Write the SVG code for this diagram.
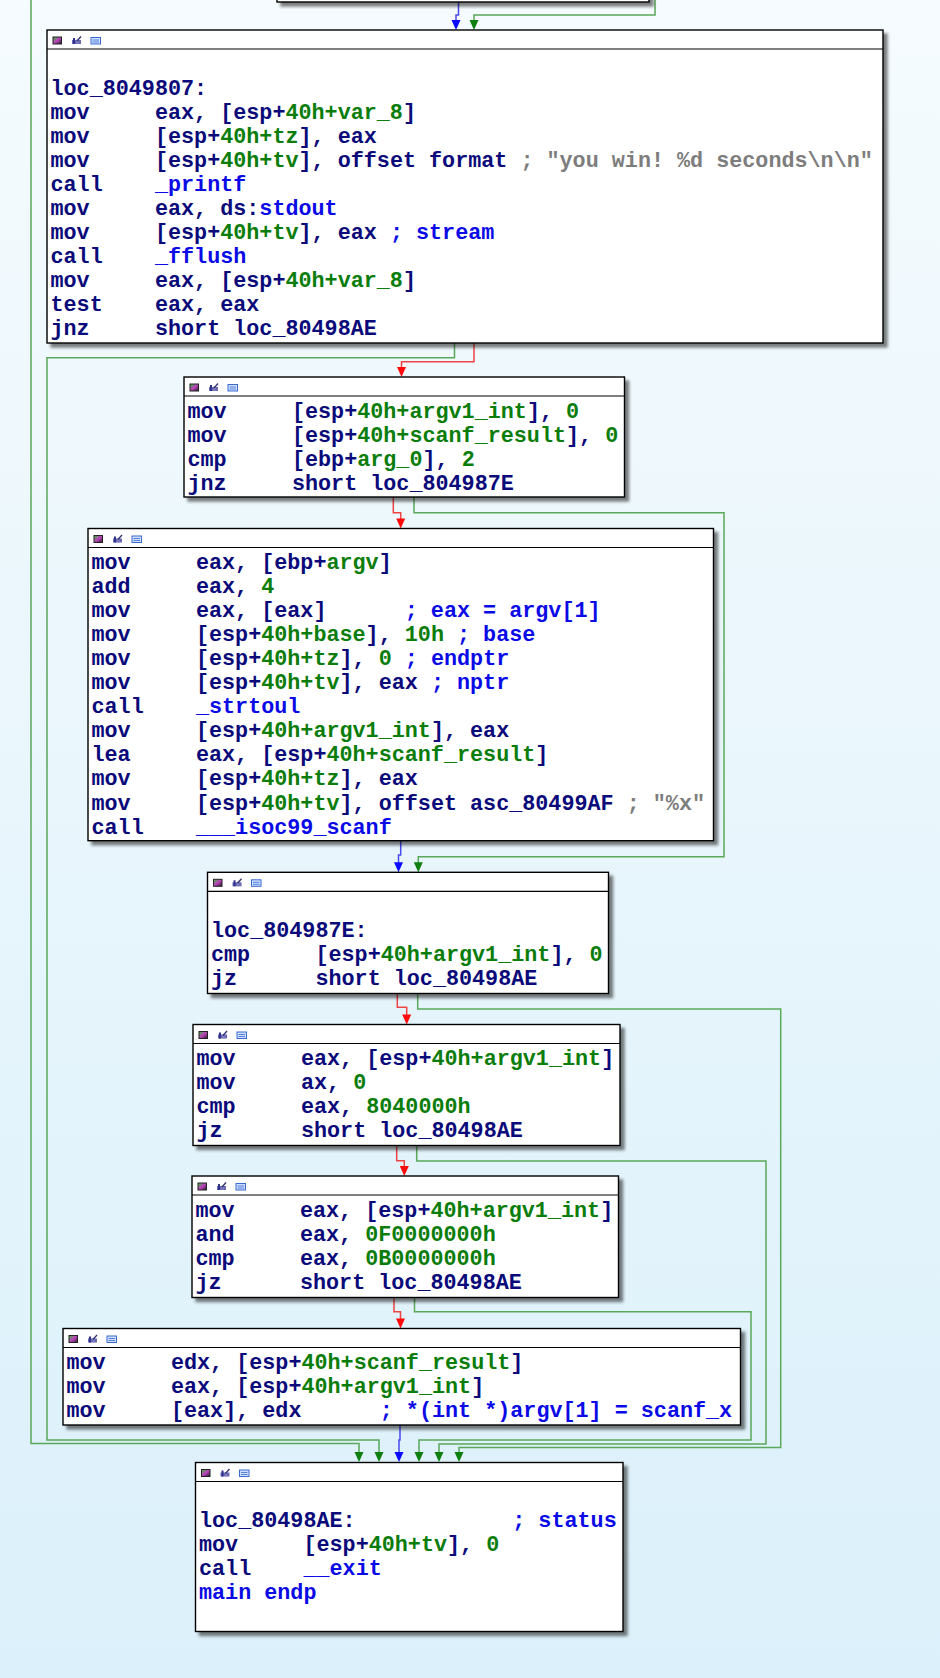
<svg xmlns="http://www.w3.org/2000/svg" width="940" height="1678" viewBox="0 0 940 1678" xml:space="preserve">
<defs>
<linearGradient id="bg" x1="0" y1="0" x2="0" y2="1"><stop offset="0" stop-color="#f5fbfe"/><stop offset="1" stop-color="#dbf0fa"/></linearGradient>
<linearGradient id="ic1" x1="0" y1="0" x2="1" y2="1"><stop offset="0" stop-color="#30c030"/><stop offset="0.5" stop-color="#c040c0"/><stop offset="1" stop-color="#202020"/></linearGradient>
<filter id="sh" x="-5%" y="-5%" width="115%" height="120%"><feDropShadow dx="4" dy="4" stdDeviation="1.6" flood-color="#000" flood-opacity="0.5"/></filter>
<g id="icons">
<rect x="6" y="7" width="8.5" height="7" fill="url(#ic1)" stroke="#222" stroke-width="1"/>
<rect x="25" y="10" width="9" height="4" fill="#6a6ab0"/><rect x="26" y="8" width="2" height="6" fill="#303090"/><rect x="29.5" y="9.5" width="2" height="4.5" fill="#8080c8"/><path d="M30 11 L34 6.5" stroke="#303070" stroke-width="1.3"/>
<rect x="44" y="7.5" width="9.5" height="6.5" fill="#cfe0ff" stroke="#3a6ad0" stroke-width="1"/><path d="M45.5 10 H52 M45.5 12 H52" stroke="#3a6ad0" stroke-width="0.8"/>
</g>
</defs>
<style>
.box{fill:#fff;stroke:#000;stroke-width:1.4}
.sep{stroke:#000;stroke-width:1.2}
.t{font-family:"Liberation Mono","DejaVu Sans Mono",monospace;font-size:21.75px;font-weight:bold;fill:#0a0a7a;white-space:pre}
.n{fill:#0b7d0b}
.b{fill:#0a0ae6}
.g{fill:#7d7d7d}
.eg{fill:none;stroke:#5aa85a;stroke-width:1.5}
.er{fill:none;stroke:#ee4444;stroke-width:1.5}
.eb{fill:none;stroke:#4848f0;stroke-width:1.5}
.ag{fill:#0f800f}
.ar{fill:#ff0a0a}
.ab{fill:#0a0aff}
</style>
<rect x="0" y="0" width="940" height="1678" fill="url(#bg)"/>

<g id="connectors">
<path class="eb" d="M458.5 2 V15 H456 V21"/>
<path class="ab" d="M451.5 20 H460.5 L456 30 Z"/>
<path class="eg" d="M655 0 V15 H474 V21"/>
<path class="ag" d="M469.5 20 H478.5 L474 30 Z"/>
<path class="eg" d="M31 0 V1443.5 H359 V1453"/>
<path class="ag" d="M354.5 1452 H363.5 L359 1462 Z"/>
<path class="eg" d="M454.5 343 V357.7 H47 V1440 H379 V1453"/>
<path class="ag" d="M374.5 1452 H383.5 L379 1462 Z"/>
<path class="er" d="M474 343 V361.7 H401.5 V368"/>
<path class="ar" d="M397 367 H406 L401.5 377 Z"/>
<path class="er" d="M393.3 497 V512.7 H400.7 V520"/>
<path class="ar" d="M396.2 518.5 H405.2 L400.7 528.5 Z"/>
<path class="eg" d="M414 497 V512.7 H724 V856.7 H418.3 V863"/>
<path class="ag" d="M413.8 862.3 H422.8 L418.3 872.3 Z"/>
<path class="eb" d="M400.7 841 V855 H398.5 V863"/>
<path class="ab" d="M394 862.3 H403 L398.5 872.3 Z"/>
<path class="er" d="M397.3 993.5 V1007.3 H406.7 V1015.5"/>
<path class="ar" d="M402.2 1014.5 H411.2 L406.7 1024.5 Z"/>
<path class="eg" d="M417.7 993.5 V1009 H780.7 V1447.5 H459 V1453"/>
<path class="ag" d="M454.5 1452 H463.5 L459 1462 Z"/>
<path class="er" d="M396.7 1145.5 V1160.7 H404.3 V1167"/>
<path class="ar" d="M399.8 1166 H408.8 L404.3 1176 Z"/>
<path class="eg" d="M416.7 1145.5 V1161 H766 V1444 H439 V1453"/>
<path class="ag" d="M434.5 1452 H443.5 L439 1462 Z"/>
<path class="er" d="M394 1297.5 V1311.7 H400.5 V1319.5"/>
<path class="ar" d="M396 1318.5 H405 L400.5 1328.5 Z"/>
<path class="eg" d="M414.5 1297.5 V1311.7 H751 V1440 H419 V1453"/>
<path class="ag" d="M414.5 1452 H423.5 L419 1462 Z"/>
<path class="eb" d="M400 1425 V1440 H399 V1453"/>
<path class="ab" d="M394.5 1452 H403.5 L399 1462 Z"/>
</g>

<g id="node_top">
<rect x="277" y="-40" width="372" height="42" class="box" filter="url(#sh)"/>
</g>

<g id="node_loc_8049807">
<rect x="47" y="30" width="836" height="313" class="box" filter="url(#sh)"/>
<line x1="47" y1="49" x2="883" y2="49" class="sep"/>
<use href="#icons" x="47" y="30"/>
<text class="t" x="50.5" y="94.55">loc_8049807:</text>
<text class="t" x="50.5" y="118.6">mov     eax, [esp+<tspan class="n">40h+var_8</tspan>]</text>
<text class="t" x="50.5" y="142.65">mov     [esp+<tspan class="n">40h+tz</tspan>], eax</text>
<text class="t" x="50.5" y="166.7">mov     [esp+<tspan class="n">40h+tv</tspan>], offset format <tspan class="g">; "you win! %d seconds\n\n"</tspan></text>
<text class="t" x="50.5" y="190.75">call    <tspan class="b">_printf</tspan></text>
<text class="t" x="50.5" y="214.8">mov     eax, ds:<tspan class="b">stdout</tspan></text>
<text class="t" x="50.5" y="238.85">mov     [esp+<tspan class="n">40h+tv</tspan>], eax <tspan class="b">; stream</tspan></text>
<text class="t" x="50.5" y="262.9">call    <tspan class="b">_fflush</tspan></text>
<text class="t" x="50.5" y="286.95">mov     eax, [esp+<tspan class="n">40h+var_8</tspan>]</text>
<text class="t" x="50.5" y="311">test    eax, eax</text>
<text class="t" x="50.5" y="335.05">jnz     short loc_80498AE</text>
</g>

<g id="node_init">
<rect x="184" y="377" width="440.5" height="120" class="box" filter="url(#sh)"/>
<line x1="184" y1="396" x2="624.5" y2="396" class="sep"/>
<use href="#icons" x="184" y="377"/>
<text class="t" x="187.5" y="417.5">mov     [esp+<tspan class="n">40h+argv1_int</tspan>], <tspan class="n">0</tspan></text>
<text class="t" x="187.5" y="441.55">mov     [esp+<tspan class="n">40h+scanf_result</tspan>], <tspan class="n">0</tspan></text>
<text class="t" x="187.5" y="465.6">cmp     [ebp+<tspan class="n">arg_0</tspan>], <tspan class="n">2</tspan></text>
<text class="t" x="187.5" y="489.65">jnz     short loc_804987E</text>
</g>

<g id="node_parse">
<rect x="88" y="528.5" width="625.5" height="312.2" class="box" filter="url(#sh)"/>
<line x1="88" y1="547.5" x2="713.5" y2="547.5" class="sep"/>
<use href="#icons" x="88" y="528.5"/>
<text class="t" x="91.5" y="569">mov     eax, [ebp+<tspan class="n">argv</tspan>]</text>
<text class="t" x="91.5" y="593.05">add     eax, <tspan class="n">4</tspan></text>
<text class="t" x="91.5" y="617.1">mov     eax, [eax]      <tspan class="b">; eax = argv[1]</tspan></text>
<text class="t" x="91.5" y="641.15">mov     [esp+<tspan class="n">40h+base</tspan>], <tspan class="n">10h</tspan> <tspan class="b">; base</tspan></text>
<text class="t" x="91.5" y="665.2">mov     [esp+<tspan class="n">40h+tz</tspan>], <tspan class="n">0</tspan> <tspan class="b">; endptr</tspan></text>
<text class="t" x="91.5" y="689.25">mov     [esp+<tspan class="n">40h+tv</tspan>], eax <tspan class="b">; nptr</tspan></text>
<text class="t" x="91.5" y="713.3">call    <tspan class="b">_strtoul</tspan></text>
<text class="t" x="91.5" y="737.35">mov     [esp+<tspan class="n">40h+argv1_int</tspan>], eax</text>
<text class="t" x="91.5" y="761.4">lea     eax, [esp+<tspan class="n">40h+scanf_result</tspan>]</text>
<text class="t" x="91.5" y="785.45">mov     [esp+<tspan class="n">40h+tz</tspan>], eax</text>
<text class="t" x="91.5" y="809.5">mov     [esp+<tspan class="n">40h+tv</tspan>], offset asc_80499AF <tspan class="g">; "%x"</tspan></text>
<text class="t" x="91.5" y="833.55">call    <tspan class="b">___isoc99_scanf</tspan></text>
</g>

<g id="node_loc_804987E">
<rect x="207.5" y="872.3" width="401" height="121.2" class="box" filter="url(#sh)"/>
<line x1="207.5" y1="891.3" x2="608.5" y2="891.3" class="sep"/>
<use href="#icons" x="207.5" y="872.3"/>
<text class="t" x="211" y="936.85">loc_804987E:</text>
<text class="t" x="211" y="960.9">cmp     [esp+<tspan class="n">40h+argv1_int</tspan>], <tspan class="n">0</tspan></text>
<text class="t" x="211" y="984.95">jz      short loc_80498AE</text>
</g>

<g id="node_check1">
<rect x="193" y="1024.5" width="427" height="121" class="box" filter="url(#sh)"/>
<line x1="193" y1="1043.5" x2="620" y2="1043.5" class="sep"/>
<use href="#icons" x="193" y="1024.5"/>
<text class="t" x="196.5" y="1065">mov     eax, [esp+<tspan class="n">40h+argv1_int</tspan>]</text>
<text class="t" x="196.5" y="1089.05">mov     ax, <tspan class="n">0</tspan></text>
<text class="t" x="196.5" y="1113.1">cmp     eax, <tspan class="n">8040000h</tspan></text>
<text class="t" x="196.5" y="1137.15">jz      short loc_80498AE</text>
</g>

<g id="node_check2">
<rect x="192" y="1176" width="426.5" height="121.5" class="box" filter="url(#sh)"/>
<line x1="192" y1="1195" x2="618.5" y2="1195" class="sep"/>
<use href="#icons" x="192" y="1176"/>
<text class="t" x="195.5" y="1216.5">mov     eax, [esp+<tspan class="n">40h+argv1_int</tspan>]</text>
<text class="t" x="195.5" y="1240.55">and     eax, <tspan class="n">0F0000000h</tspan></text>
<text class="t" x="195.5" y="1264.6">cmp     eax, <tspan class="n">0B0000000h</tspan></text>
<text class="t" x="195.5" y="1288.65">jz      short loc_80498AE</text>
</g>

<g id="node_write">
<rect x="63" y="1328.5" width="677.5" height="96.5" class="box" filter="url(#sh)"/>
<line x1="63" y1="1347.5" x2="740.5" y2="1347.5" class="sep"/>
<use href="#icons" x="63" y="1328.5"/>
<text class="t" x="66.5" y="1369">mov     edx, [esp+<tspan class="n">40h+scanf_result</tspan>]</text>
<text class="t" x="66.5" y="1393.05">mov     eax, [esp+<tspan class="n">40h+argv1_int</tspan>]</text>
<text class="t" x="66.5" y="1417.1">mov     [eax], edx      <tspan class="b">; *(int *)argv[1] = scanf_x</tspan></text>
</g>

<g id="node_loc_80498AE">
<rect x="195.5" y="1462.5" width="427.5" height="169" class="box" filter="url(#sh)"/>
<line x1="195.5" y1="1481.5" x2="623" y2="1481.5" class="sep"/>
<use href="#icons" x="195.5" y="1462.5"/>
<text class="t" x="199" y="1527.05">loc_80498AE:            <tspan class="b">; status</tspan></text>
<text class="t" x="199" y="1551.1">mov     [esp+<tspan class="n">40h+tv</tspan>], <tspan class="n">0</tspan></text>
<text class="t" x="199" y="1575.15">call    <tspan class="b">__exit</tspan></text>
<text class="t" x="199" y="1599.2"><tspan class="b">main endp</tspan></text>
</g>
</svg>
